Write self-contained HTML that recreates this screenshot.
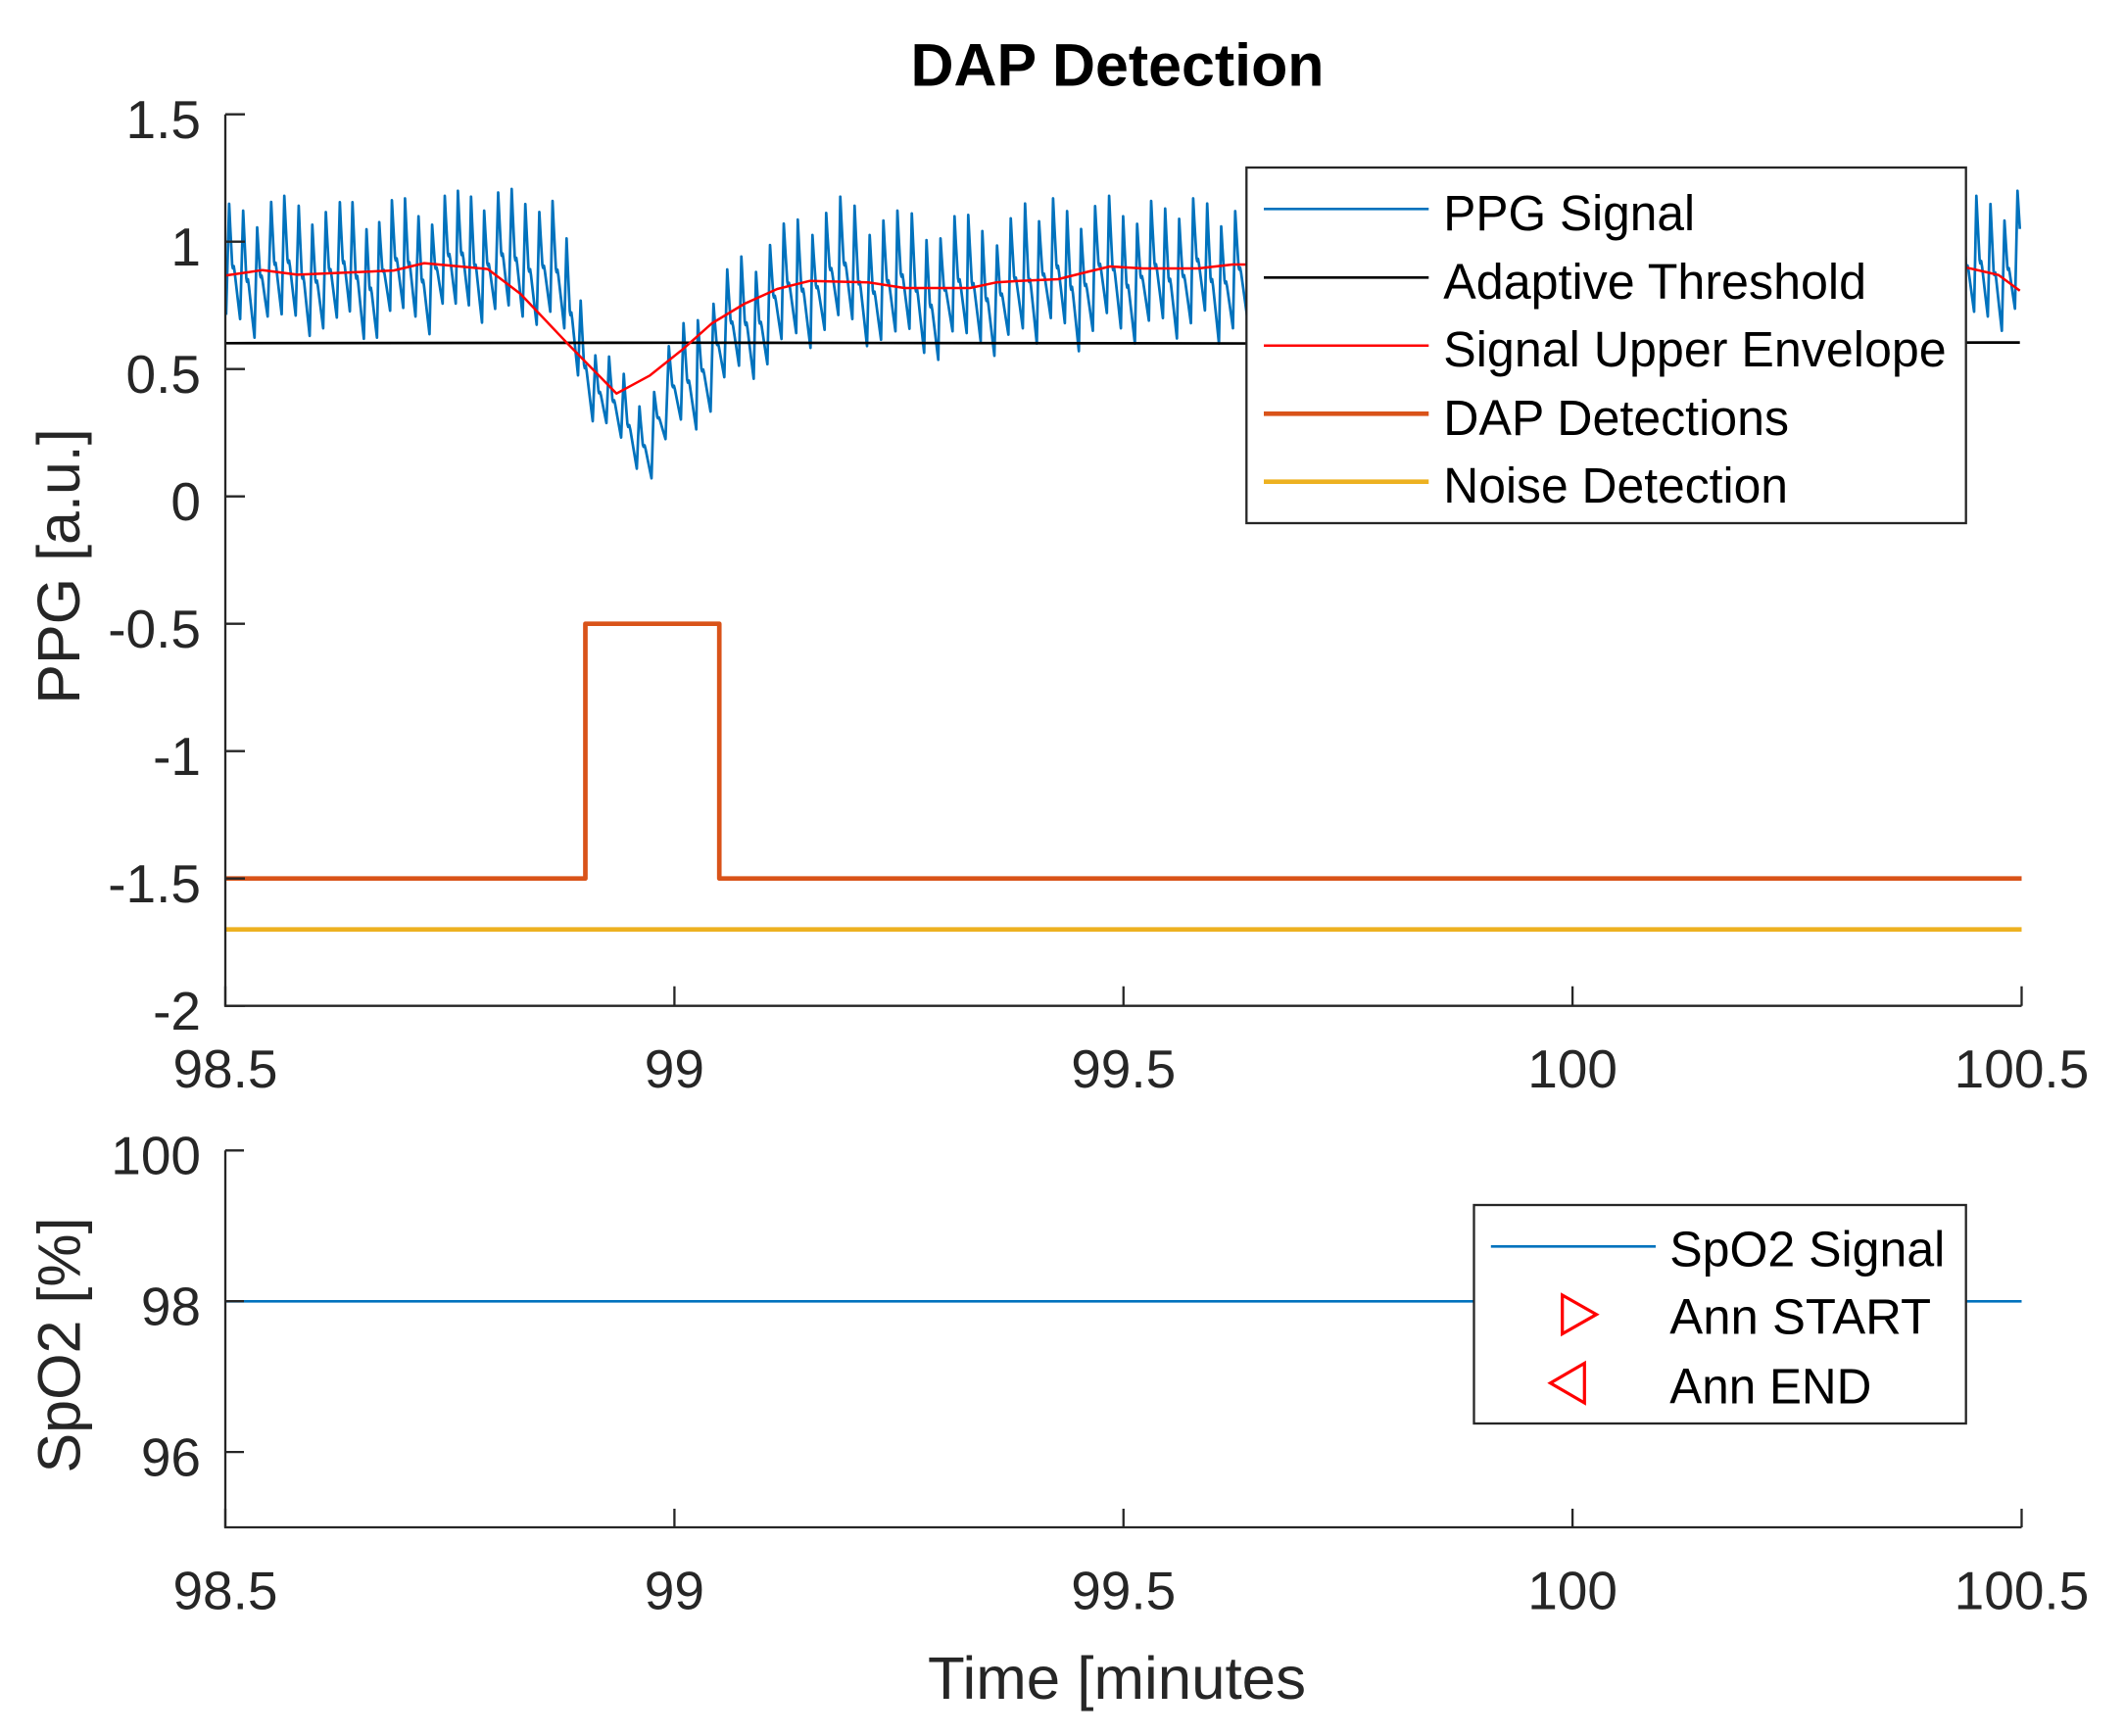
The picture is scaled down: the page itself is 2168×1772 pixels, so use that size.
<!DOCTYPE html>
<html>
<head>
<meta charset="utf-8">
<style>
  html, body { margin:0; padding:0; background:#ffffff; }
  svg { display:block; }
  text { font-family: "Liberation Sans", Arial, Helvetica, sans-serif; }
</style>
</head>
<body>
<svg xmlns="http://www.w3.org/2000/svg" width="2168" height="1772" viewBox="0 0 2168 1772">
  <rect x="0" y="0" width="2168" height="1772" fill="#ffffff"/>

  <text x="1140.5" y="87.7" font-size="61" font-weight="bold" fill="#000" text-anchor="middle" textLength="422" lengthAdjust="spacingAndGlyphs">DAP Detection</text>

  <g fill="none" stroke-linejoin="round" stroke-linecap="butt">
    <path id="ppg1" stroke="#0072BD" stroke-width="2.7" d=""/>
    <path id="ppg2" stroke="#0072BD" stroke-width="2.7" d=""/>
    <path stroke="#000000" stroke-width="2.7" d="M230,350.3 L700,349.8 L1300,350.6 L2061.7,349.6"/>
    <path stroke="#FF0000" stroke-width="2.5" d="M230.8,281.1 L267.9,275.7 L303.6,280.4 L401.8,276.1 L433,268.6 L497.8,274.6 L531.3,300 L580.4,351.8 L629.3,401.7 L663.3,383.3 L696.7,356.7 L726.7,330 L760,310 L793.3,295 L826.7,286.7 L886.7,288.3 L923.3,294 L990,294 L1016.7,288.3 L1040,286.7 L1080,285 L1112,277 L1133,272 L1167,274 L1223,274 L1258,270 L1300,270 L1990,272 L2008,273.3 L2040,280.7 L2061.7,296.7"/>
    <path stroke="#D95319" stroke-width="4.7" d="M230,896.7 H597.5 V636.7 H734.2 V896.7 H2063.5"/>
    <path stroke="#EDB120" stroke-width="4.7" d="M230,948.7 H2063.5"/>
  </g>

  <g stroke="#262626" stroke-width="2.3" fill="none">
    <path d="M230,116.7 V1026.7 H2063.5"/>
    <path d="M230,116.7 h20 M230,246.7 h20 M230,376.7 h20 M230,506.7 h20 M230,636.7 h20 M230,766.7 h20 M230,896.7 h20 M230,1026.7 h20"/>
    <path d="M230,1026.7 v-20 M688.4,1026.7 v-20 M1146.75,1026.7 v-20 M1605.1,1026.7 v-20 M2063.5,1026.7 v-20"/>
  </g>
  <g font-size="55" fill="#262626" text-anchor="end">
    <text x="205" y="141.2">1.5</text>
    <text x="205" y="271.2">1</text>
    <text x="205" y="401.2">0.5</text>
    <text x="205" y="531.2">0</text>
    <text x="205" y="661.2">-0.5</text>
    <text x="205" y="791.2">-1</text>
    <text x="205" y="921.2">-1.5</text>
    <text x="205" y="1051.2">-2</text>
  </g>
  <g font-size="55" fill="#262626" text-anchor="middle">
    <text x="230" y="1110">98.5</text>
    <text x="688.4" y="1110">99</text>
    <text x="1146.75" y="1110">99.5</text>
    <text x="1605.1" y="1110">100</text>
    <text x="2063.5" y="1110">100.5</text>
  </g>
  <text transform="translate(81,578) rotate(-90)" font-size="61" fill="#262626" text-anchor="middle">PPG [a.u.]</text>

  <rect x="1272.3" y="171" width="734.4" height="363" fill="#ffffff" stroke="#262626" stroke-width="2.3"/>
  <g fill="none">
    <path stroke="#0072BD" stroke-width="2.7" d="M1290,213.3 H1458.3"/>
    <path stroke="#000000" stroke-width="2.7" d="M1290,283.3 H1458.3"/>
    <path stroke="#FF0000" stroke-width="2.5" d="M1290,352.7 H1458.3"/>
    <path stroke="#D95319" stroke-width="4.7" d="M1290,422.3 H1458.3"/>
    <path stroke="#EDB120" stroke-width="4.7" d="M1290,491.7 H1458.3"/>
  </g>
  <g font-size="51" fill="#000">
    <text x="1473.3" y="235" textLength="256.7" lengthAdjust="spacingAndGlyphs">PPG Signal</text>
    <text x="1473.3" y="304.8" textLength="431.7" lengthAdjust="spacingAndGlyphs">Adaptive Threshold</text>
    <text x="1473.3" y="374.2" textLength="513.4" lengthAdjust="spacingAndGlyphs">Signal Upper Envelope</text>
    <text x="1473.3" y="443.8" textLength="352.7" lengthAdjust="spacingAndGlyphs">DAP Detections</text>
    <text x="1473.3" y="513.2" textLength="351.7" lengthAdjust="spacingAndGlyphs">Noise Detection</text>
  </g>

  <path stroke="#0072BD" stroke-width="2.7" fill="none" d="M230,1328.3 H2063.5"/>
  <g stroke="#262626" stroke-width="2.3" fill="none">
    <path d="M230,1174.3 V1559 H2063.5"/>
    <path d="M230,1174.3 h19 M230,1328.2 h19 M230,1482.1 h19"/>
    <path d="M230,1559 v-19 M688.4,1559 v-19 M1146.75,1559 v-19 M1605.1,1559 v-19 M2063.5,1559 v-19"/>
  </g>
  <g font-size="55" fill="#262626" text-anchor="end">
    <text x="205" y="1198.3">100</text>
    <text x="205" y="1352.4">98</text>
    <text x="205" y="1506.3">96</text>
  </g>
  <g font-size="55" fill="#262626" text-anchor="middle">
    <text x="230" y="1642.3">98.5</text>
    <text x="688.4" y="1642.3">99</text>
    <text x="1146.75" y="1642.3">99.5</text>
    <text x="1605.1" y="1642.3">100</text>
    <text x="2063.5" y="1642.3">100.5</text>
  </g>
  <text transform="translate(81.3,1373) rotate(-90)" font-size="61" fill="#262626" text-anchor="middle">SpO2 [%]</text>
  <text x="1140" y="1734" font-size="61" fill="#262626" text-anchor="middle" textLength="386" lengthAdjust="spacingAndGlyphs">Time [minutes</text>

  <rect x="1504.5" y="1230" width="502.2" height="223" fill="#ffffff" stroke="#262626" stroke-width="2.3"/>
  <path stroke="#0072BD" stroke-width="2.7" fill="none" d="M1521.8,1272.3 H1690"/>
  <polygon points="1594.7,1322 1594.7,1361.5 1629.5,1341.7" fill="none" stroke="#FF0000" stroke-width="3.2"/>
  <polygon points="1617.3,1391.5 1617.3,1432 1582.5,1411.7" fill="none" stroke="#FF0000" stroke-width="3.2"/>
  <g font-size="51" fill="#000">
    <text x="1704.3" y="1292.7" textLength="281" lengthAdjust="spacingAndGlyphs">SpO2 Signal</text>
    <text x="1704.3" y="1361.7" textLength="266.8" lengthAdjust="spacingAndGlyphs">Ann START</text>
    <text x="1704.3" y="1432.3" textLength="206" lengthAdjust="spacingAndGlyphs">Ann END</text>
  </g>
</svg>

<script>
(function(){
  function Y(v){ return 506.7 - 260*v; }
  var shape = [[0.1,0.8],[0.28,0.47],[0.34,0.44],[0.42,0.46],[0.5,0.41],[0.78,0.18]];
  function seg(arr, tail){
    var p = [];
    for (var i=0;i<arr.length;i++){
      var x = arr[i][0], v = arr[i][1];
      p.push([x, Y(v)]);
      if (i%2===1 && i+1<arr.length){
        var xt = arr[i+1][0], vt = arr[i+1][1];
        var D = xt - x;
        for (var k=0;k<shape.length;k++){
          p.push([x + shape[k][0]*D, Y(vt + (v-vt)*shape[k][1])]);
        }
      }
    }
    if (tail) p.push([tail[0], Y(tail[1])]);
    var s = '';
    for (var j=0;j<p.length;j++){
      s += (j===0?'M':'L') + p[j][0].toFixed(1) + ',' + p[j][1].toFixed(1);
    }
    return s;
  }
  var d1 = [
    [230.8,0.713],[233.9,1.149],[245.1,0.696],[248.2,1.122],
    [259.8,0.623],[262.5,1.056],[273.2,0.706],[276.8,1.156],
    [287.5,0.715],[290.2,1.18],[301.8,0.71],[304.9,1.141],
    [316.1,0.63],[318.8,1.067],[329.9,0.66],[332.6,1.116],
    [343.8,0.702],[346.9,1.155],[357.1,0.726],[359.8,1.155],
    [371.4,0.619],[374.1,1.049],[384.8,0.623],[387.1,1.077],
    [398.2,0.729],[400,1.163],[411.6,0.74],[413.4,1.17],
    [424.1,0.706],[427.2,1.1],[438.4,0.637],[441.1,1.067],
    [451.8,0.757],[454,1.18],[465.2,0.757],[467.4,1.2],
    [478.6,0.75],[480.8,1.177],[492,0.682],[494.2,1.122],
    [505.4,0.736],[508.5,1.193],[519.2,0.75],[522.3,1.207],
    [533.5,0.706],[536.2,1.148],[547.8,0.674],[550.5,1.117],
    [561.7,0.725],[564,1.16],[576,0.66],[578.3,1.013],
    [590,0.475],[592.7,0.769],[605,0.295],[607.7,0.554],
    [619,0.288],[621.7,0.549],[634,0.231],[636.7,0.481],
    [650,0.109],[652.7,0.353],[665,0.071],[667.7,0.41],
    [679.3,0.225],[682.7,0.59],[695,0.302],[697.7,0.68],
    [710.7,0.263],[712.3,0.692],[725.3,0.333],[728.3,0.756],
    [739.3,0.468],[742.3,0.891],[754.3,0.513],[756.7,0.942],
    [769.3,0.462],[771.7,0.881],[783.3,0.519],[786,0.987],
    [797.7,0.618],[800,1.071],[812.7,0.641],[814.3,1.087],
    [827.3,0.583],[829.3,1.026],[841.7,0.654],[843.3,1.113],
    [855.7,0.712],[857.7,1.177],[870,0.696],[872.3,1.141],
    [885,0.59],[887.7,1.026],[899.3,0.615],[901.7,1.083],
    [914,0.648],[916,1.122],[928.3,0.658],[930.7,1.111],
    [943.3,0.564],[945.7,1.006],[957.7,0.536],[960,1.013],
    [972.3,0.648],[974.3,1.1],[986.7,0.641],[988.3,1.105],
    [1001,0.609],[1002.7,1.042],[1015,0.552],[1017.7,0.985],
    [1029.3,0.635],[1031.7,1.092],[1044,0.66],[1046.3,1.15],
    [1058.3,0.6],[1060.6,1.08],[1072.6,0.7],[1074.9,1.17],
    [1086.9,0.68],[1089.2,1.12],[1101.2,0.57],[1103.5,1.05],
    [1115.5,0.65],[1117.8,1.14],[1129.8,0.72],[1132.1,1.18],
    [1144.1,0.66],[1146.4,1.1],[1158.4,0.6],[1160.7,1.07],
    [1172.7,0.69],[1175,1.16],[1187,0.7],[1189.3,1.13],
    [1201.3,0.62],[1203.6,1.09],[1215.6,0.68],[1217.9,1.17],
    [1229.9,0.73],[1232.2,1.15],[1244.2,0.6],[1246.5,1.06],
    [1258.5,0.66],[1260.8,1.12],[1272.8,0.71],[1275.1,1.18],
    [1287,0.68]
  ];
  var d2 = [
    [2001,0.68],[2003.5,1.12],[2015,0.725],[2017.3,1.18],
    [2029,0.706],[2031.7,1.148],[2043.3,0.65],[2046,1.083],
    [2056.7,0.737],[2059.3,1.2]
  ];
  document.getElementById('ppg1').setAttribute('d', seg(d1));
  document.getElementById('ppg2').setAttribute('d', seg(d2, [2061.7,1.05]));
})();
</script>
</body>
</html>
